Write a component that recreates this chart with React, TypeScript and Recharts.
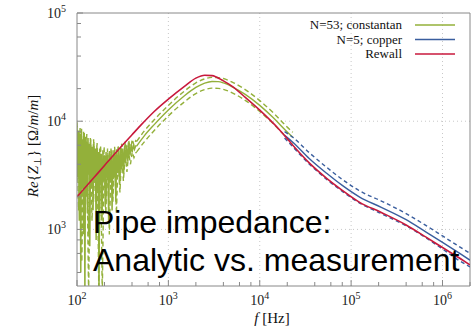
import React from 'react';
import { LineChart, Line, XAxis, YAxis, ReferenceLine } from 'recharts';

// frequency axis [Hz] and impedance axis [Ohm/m/m]
const xMajor = [1e2, 1e3, 1e4, 1e5, 1e6];
const xMinor = [200, 400, 600, 800, 2e3, 4e3, 6e3, 8e3, 2e4, 4e4, 6e4, 8e4, 2e5, 4e5, 6e5, 8e5, 2e6];
const yMajor = [1e3, 1e4, 1e5];
const yMinor = [400, 600, 800, 2e3, 4e3, 6e3, 8e3, 2e4, 4e4, 6e4, 8e4];
const xDomain = [100, 2e6];
const yDomain = [300, 1e5];

// Rewall (analytic)
const rewallF = [100, 150, 200, 300, 400, 500, 700, 1000, 1500, 2000, 2500, 3000, 4000, 5000, 7000, 10000, 16600, 23000, 35000, 54000, 80000, 124000, 214000, 400000, 668000, 1000000, 1500000, 2000000];
const rewallZ = [2000, 2950, 3900, 5750, 7500, 9200, 12300, 16000, 21000, 25000, 26600, 26400, 23600, 21000, 16500, 12650, 8260, 6000, 4100, 2970, 2300, 1780, 1435, 1100, 843, 680, 550, 470];

// N=53; constantan, noisy low-frequency part (mean, upper, lower)
const constNoiseF = [100, 102, 104, 106, 108, 110, 112, 114, 116, 118, 120, 122, 124, 126, 128, 130, 132, 134, 136, 138, 141, 144, 147, 150, 153, 156, 159, 162, 165, 168, 171, 174, 177, 180, 184, 188, 192, 196, 200, 204, 208, 212, 217, 222, 227, 232, 237, 242, 248, 254, 260, 266, 272, 279, 286, 293, 300, 308, 316, 324, 332, 341, 350, 360, 370, 380, 391, 402, 414, 426, 438, 450];
const constNoiseZ = [9000, 3000, 8200, 1200, 7600, 400, 8500, 2600, 6800, 900, 7800, 250, 7200, 2000, 6400, 1400, 7000, 3200, 6200, 700, 6800, 2400, 5800, 1500, 6400, 3000, 5600, 800, 6000, 2200, 5200, 250, 5600, 2600, 5000, 1200, 5400, 2800, 4800, 1600, 5200, 3000, 4900, 1200, 5300, 2700, 5000, 1500, 5400, 3100, 5200, 1800, 5500, 3300, 5400, 2600, 5700, 3600, 5600, 3300, 5900, 4100, 6000, 4300, 6200, 4800, 6100, 5200, 6000, 5500, 5900, 5900];
const constHiNoiseF = [100, 104, 108, 113, 118, 123, 128, 134, 140, 146, 152, 159, 166, 173, 181, 189, 198, 207, 216, 226, 236, 247, 258, 270, 282, 295, 308, 322, 337, 352, 368, 385, 402, 420, 440, 450];
const constHiNoiseZ = [9800, 4000, 8800, 1500, 8000, 3500, 7600, 900, 7000, 3200, 6800, 1800, 6300, 300, 6000, 2500, 5800, 1800, 5600, 2800, 5700, 2400, 5800, 3300, 6000, 3000, 6200, 4000, 6500, 4600, 6700, 5300, 6800, 6000, 6600, 6500];
const constLoNoiseF = [100, 104, 108, 113, 118, 123, 128, 134, 140, 146, 152, 159, 166, 173, 181, 189, 198, 207, 216, 226, 236, 247, 258, 270, 282, 295, 308, 322, 337, 352, 368, 385, 402, 420, 440, 450];
const constLoNoiseZ = [7000, 1500, 6000, 500, 6500, 2000, 5500, 250, 5800, 1200, 5000, 2400, 5500, 700, 4800, 250, 4500, 1400, 4600, 900, 4400, 1800, 4700, 1400, 4800, 2200, 4900, 2800, 5000, 3400, 5100, 4000, 5200, 4600, 5100, 5200];

// N=53; constantan, smooth part
const constF = [450, 550, 700, 1000, 1500, 2000, 2500, 3000, 3500, 4000, 5000, 7000, 10000, 14000, 19000, 23000];
const constZ = [5900, 7400, 9300, 12700, 17200, 20500, 22500, 23300, 23200, 22600, 20800, 17600, 14000, 10800, 8300, 7100];
const constHiZ = [6500, 8200, 10300, 14000, 19000, 22600, 24600, 25400, 25300, 24800, 23000, 19500, 15500, 12000, 9200, 7900];
const constLoZ = [5200, 6500, 8200, 11200, 15100, 18000, 19600, 20200, 20100, 19700, 18300, 15500, 12300, 9500, 7300, 6250];

// N=5; copper
const copperF = [18700, 23000, 35000, 54000, 80000, 124000, 214000, 400000, 668000, 1000000, 1500000, 2000000];
const copperZ = [7400, 6400, 4500, 3300, 2550, 1990, 1600, 1230, 940, 760, 610, 520];
const copperHiZ = [8000, 7100, 5100, 3750, 2900, 2270, 1830, 1400, 1080, 870, 700, 600];
const copperLoZ = [7000, 5800, 4000, 2900, 2250, 1750, 1400, 1080, 830, 660, 520, 450];

const GREEN = '#93b03a';
const BLUE = '#3a5e9e';
const RED = '#c8193c';
const AXIS = '#888';
const SERIF = '"Liberation Serif", "Times New Roman", serif';

const zip = (fs: number[], zs: number[]) => fs.map((f, i) => ({ f, z: zs[i] }));

const legendItems = [
  { name: 'N=53; constantan', color: GREEN },
  { name: 'N=5; copper', color: BLUE },
  { name: 'Rewall', color: RED },
];

const XTick = (props: any) => {
  const { x, y, payload } = props;
  const v = payload.value;
  const major = xMajor.includes(v);
  return (
    <g>
      <line x1={x} x2={x} y1={y} y2={y - (major ? 6 : 4)} stroke={AXIS} />
      {major && (
        <text x={x} y={y + 19} textAnchor="middle" fontFamily={SERIF} fontSize={14} fill="#222">
          10<tspan dy={-6} fontSize={10}>{Math.round(Math.log10(v))}</tspan>
        </text>
      )}
    </g>
  );
};

const YTick = (props: any) => {
  const { x, y, payload } = props;
  const v = payload.value;
  const major = yMajor.includes(v);
  return (
    <g>
      <line x1={x} x2={x + (major ? 6 : 4)} y1={y} y2={y} stroke={AXIS} />
      {major && (
        <text x={x - 11} y={y + 5} textAnchor="end" fontFamily={SERIF} fontSize={14} fill="#222">
          10<tspan dy={-6} fontSize={10}>{Math.round(Math.log10(v))}</tspan>
        </text>
      )}
    </g>
  );
};

const common = { dataKey: 'z', dot: false, isAnimationActive: false, strokeWidth: 1.4 };

export default function App() {
  return (
    <div style={{ position: 'absolute', left: 0, top: 0, width: 475, height: 328, background: '#fff' }}>
      <LineChart width={475} height={328} margin={{ top: 13, right: 5, left: 0, bottom: 0 }}>
        <XAxis
          dataKey="f"
          type="number"
          scale="log"
          domain={xDomain}
          allowDataOverflow
          ticks={[...xMajor, ...xMinor]}
          interval={0}
          tick={<XTick />}
          tickLine={false}
          tickSize={0}
          tickMargin={0}
          axisLine={{ stroke: AXIS }}
          height={42}
        />
        <YAxis
          type="number"
          scale="log"
          domain={yDomain}
          allowDataOverflow
          ticks={[...yMajor, ...yMinor]}
          interval={0}
          tick={<YTick />}
          tickLine={false}
          tickSize={0}
          tickMargin={0}
          axisLine={{ stroke: AXIS }}
          width={77}
        />
        {xMajor.slice(1).map((v) => (
          <ReferenceLine key={'vx' + v} x={v} stroke="#c8c8c8" strokeDasharray="1 3" />
        ))}
        {yMajor.slice(0, 2).map((v) => (
          <ReferenceLine key={'hy' + v} y={v} stroke="#c8c8c8" strokeDasharray="1 3" />
        ))}
        <ReferenceLine y={yDomain[1]} stroke={AXIS} />
        <ReferenceLine x={xDomain[1]} stroke={AXIS} />

        <Line {...common} data={zip(constHiNoiseF, constHiNoiseZ)} type="linear" stroke={GREEN} strokeDasharray="5 3" />
        <Line {...common} data={zip(constLoNoiseF, constLoNoiseZ)} type="linear" stroke={GREEN} strokeDasharray="5 3" />
        <Line {...common} data={zip(constNoiseF, constNoiseZ)} type="linear" stroke={GREEN} strokeWidth={1.5} />
        <Line {...common} data={zip(constF, constHiZ)} type="monotone" stroke={GREEN} strokeDasharray="5 3" />
        <Line {...common} data={zip(constF, constLoZ)} type="monotone" stroke={GREEN} strokeDasharray="5 3" />
        <Line {...common} data={zip(constF, constZ)} type="monotone" stroke={GREEN} />

        <Line {...common} data={zip(copperF, copperHiZ)} type="monotone" stroke={BLUE} strokeDasharray="4 3" />
        <Line {...common} data={zip(copperF, copperLoZ)} type="monotone" stroke={BLUE} strokeDasharray="4 3" />
        <Line {...common} data={zip(copperF, copperZ)} type="monotone" stroke={BLUE} />

        <Line {...common} data={zip(rewallF, rewallZ)} type="monotone" stroke={RED} strokeWidth={1.6} />
      </LineChart>

      <svg width={475} height={328} style={{ position: 'absolute', left: 0, top: 0, pointerEvents: 'none' }}>
        {legendItems.map((it, i) => (
          <g key={it.name}>
            <text x={402} y={29 + i * 14.5} textAnchor="end" fontFamily={SERIF} fontSize={13} fill="#111">
              {it.name}
            </text>
            <line x1={415} x2={455} y1={25 + i * 14.5} y2={25 + i * 14.5} stroke={it.color} strokeWidth={1.6} />
          </g>
        ))}
        <text transform="translate(38,146) rotate(-90)" textAnchor="middle" fontFamily={SERIF} fontSize={15} fill="#111">
          <tspan fontStyle="italic">Re</tspan>
          {'{'}
          <tspan fontStyle="italic">Z</tspan>
          <tspan dy={3} fontSize={10}>⊥</tspan>
          <tspan dy={-3}>{'} [Ω/'}</tspan>
          <tspan fontStyle="italic">m</tspan>/<tspan fontStyle="italic">m</tspan>]
        </text>
        <text x={272} y={323} textAnchor="middle" fontFamily={SERIF} fontSize={15} fill="#111">
          <tspan fontStyle="italic">f</tspan>
          {'  [Hz]'}
        </text>
        <text x={93} y={233} fontFamily='"Liberation Sans", Arial, sans-serif' fontSize={32} fill="#000">
          Pipe impedance:
        </text>
        <text x={93} y={271} fontFamily='"Liberation Sans", Arial, sans-serif' fontSize={32} fill="#000">
          Analytic vs. measurement
        </text>
      </svg>
    </div>
  );
}
